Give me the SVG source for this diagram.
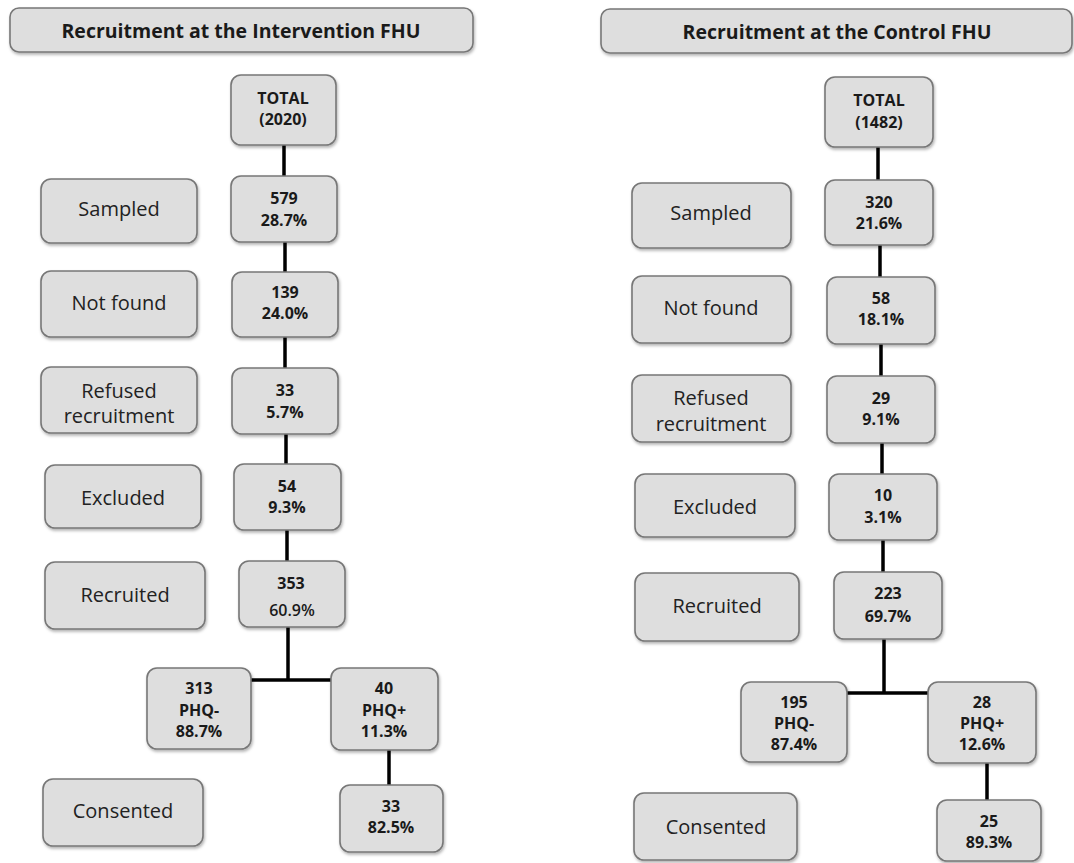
<svg xmlns="http://www.w3.org/2000/svg" width="1074" height="863" viewBox="0 0 1074 863">
<defs>
<filter id="sh" x="-10%" y="-10%" width="130%" height="140%">
<feDropShadow dx="1" dy="2" stdDeviation="1.5" flood-color="#000" flood-opacity="0.3"/>
</filter>
</defs>
<style>
.box{fill:#dedede;stroke:#777;stroke-width:1.6;filter:url(#sh)}
.title{font-family:"Open Sans","Liberation Sans",sans-serif;font-weight:bold;font-size:19.5px;fill:#1a1a1a;text-anchor:middle;dominant-baseline:central}
.lbl{font-family:"Open Sans","Liberation Sans",sans-serif;font-size:20px;fill:#222;text-anchor:middle;dominant-baseline:central}
.num{font-family:"Open Sans","Liberation Sans",sans-serif;font-weight:bold;font-size:16px;fill:#1a1a1a;text-anchor:middle;dominant-baseline:central}
.numr{font-family:"Open Sans","Liberation Sans",sans-serif;font-weight:600;font-size:16px;fill:#1a1a1a;text-anchor:middle;dominant-baseline:central}
.ln{stroke:#000;stroke-width:3.5;fill:none}
</style>
<rect width="1074" height="863" fill="#fff"/>
<g id="connectors">
<line class="ln" x1="284" y1="145" x2="284" y2="176"/>
<line class="ln" x1="285" y1="242" x2="285" y2="272"/>
<line class="ln" x1="285" y1="337" x2="285" y2="368"/>
<line class="ln" x1="286" y1="434" x2="286" y2="464"/>
<line class="ln" x1="287" y1="530" x2="287" y2="561"/>
<line class="ln" x1="288" y1="627" x2="288" y2="680"/>
<line class="ln" x1="251" y1="680" x2="332" y2="680"/>
<line class="ln" x1="389" y1="750" x2="389" y2="785"/>
<line class="ln" x1="878" y1="147" x2="878" y2="180"/>
<line class="ln" x1="880" y1="245" x2="880" y2="277"/>
<line class="ln" x1="881" y1="344" x2="881" y2="376"/>
<line class="ln" x1="882" y1="443" x2="882" y2="474"/>
<line class="ln" x1="883" y1="540" x2="883" y2="572"/>
<line class="ln" x1="884" y1="639" x2="884" y2="693"/>
<line class="ln" x1="847" y1="693" x2="928" y2="693"/>
<line class="ln" x1="987" y1="763" x2="987" y2="800"/>
</g>
<g id="titleL"><rect class="box" x="10" y="8" width="463" height="44" rx="9"/><text class="title" x="241" y="30">Recruitment at the Intervention FHU</text></g>
<g id="totalL"><rect class="box" x="231" y="75" width="105" height="70" rx="10"/><text class="num" x="283" y="98">TOTAL</text><text class="num" x="283" y="119">(2020)</text></g>
<g id="sampledL"><rect class="box" x="41" y="179" width="156" height="64" rx="10"/><text class="lbl" x="119" y="208">Sampled</text></g>
<g id="n579"><rect class="box" x="231" y="176" width="106" height="66" rx="10"/><text class="num" x="284" y="198">579</text><text class="num" x="284" y="220">28.7%</text></g>
<g id="notfoundL"><rect class="box" x="41" y="271" width="156" height="66" rx="10"/><text class="lbl" x="119" y="302">Not found</text></g>
<g id="n139"><rect class="box" x="232" y="272" width="106" height="65" rx="10"/><text class="num" x="285" y="292">139</text><text class="num" x="285" y="313">24.0%</text></g>
<g id="refusedL"><rect class="box" x="41" y="367" width="156" height="66" rx="10"/><text class="lbl" x="119" y="390">Refused</text><text class="lbl" x="119" y="415">recruitment</text></g>
<g id="n33a"><rect class="box" x="232" y="368" width="106" height="66" rx="10"/><text class="num" x="285" y="390">33</text><text class="num" x="285" y="412">5.7%</text></g>
<g id="excludedL"><rect class="box" x="45" y="465" width="156" height="63" rx="10"/><text class="lbl" x="123" y="497">Excluded</text></g>
<g id="n54"><rect class="box" x="234" y="464" width="107" height="66" rx="10"/><text class="num" x="287" y="486">54</text><text class="num" x="287" y="507">9.3%</text></g>
<g id="recruitedL"><rect class="box" x="45" y="562" width="160" height="67" rx="10"/><text class="lbl" x="125" y="594">Recruited</text></g>
<g id="n353"><rect class="box" x="239" y="561" width="106" height="66" rx="10"/><text class="num" x="291" y="583">353</text><text class="numr" x="292" y="610">60.9%</text></g>
<g id="n313"><rect class="box" x="147" y="668" width="104" height="81" rx="10"/><text class="num" x="199" y="688">313</text><text class="num" x="199" y="710">PHQ-</text><text class="num" x="199" y="731">88.7%</text></g>
<g id="n40"><rect class="box" x="331" y="668" width="107" height="82" rx="10"/><text class="num" x="384" y="688">40</text><text class="num" x="384" y="710">PHQ+</text><text class="num" x="384" y="731">11.3%</text></g>
<g id="consentedL"><rect class="box" x="43" y="779" width="160" height="67" rx="10"/><text class="lbl" x="123" y="810">Consented</text></g>
<g id="n33b"><rect class="box" x="340" y="785" width="103" height="67" rx="10"/><text class="num" x="391" y="806">33</text><text class="num" x="391" y="827">82.5%</text></g>
<g id="titleR"><rect class="box" x="601" y="9" width="471" height="44" rx="9"/><text class="title" x="837" y="31">Recruitment at the Control FHU</text></g>
<g id="totalR"><rect class="box" x="825" y="77" width="108" height="70" rx="10"/><text class="num" x="879" y="100">TOTAL</text><text class="num" x="879" y="122">(1482)</text></g>
<g id="sampledR"><rect class="box" x="632" y="183" width="159" height="65" rx="10"/><text class="lbl" x="711" y="212">Sampled</text></g>
<g id="n320"><rect class="box" x="825" y="180" width="108" height="65" rx="10"/><text class="num" x="879" y="202">320</text><text class="num" x="879" y="223">21.6%</text></g>
<g id="notfoundR"><rect class="box" x="632" y="276" width="159" height="67" rx="10"/><text class="lbl" x="711" y="307">Not found</text></g>
<g id="n58"><rect class="box" x="827" y="277" width="108" height="67" rx="10"/><text class="num" x="881" y="298">58</text><text class="num" x="881" y="319">18.1%</text></g>
<g id="refusedR"><rect class="box" x="632" y="375" width="159" height="67" rx="10"/><text class="lbl" x="711" y="397">Refused</text><text class="lbl" x="711" y="423">recruitment</text></g>
<g id="n29"><rect class="box" x="827" y="376" width="108" height="67" rx="10"/><text class="num" x="881" y="398">29</text><text class="num" x="881" y="419">9.1%</text></g>
<g id="excludedR"><rect class="box" x="635" y="474" width="160" height="63" rx="10"/><text class="lbl" x="715" y="506">Excluded</text></g>
<g id="n10"><rect class="box" x="829" y="474" width="108" height="66" rx="10"/><text class="num" x="883" y="495">10</text><text class="num" x="883" y="517">3.1%</text></g>
<g id="recruitedR"><rect class="box" x="635" y="573" width="164" height="68" rx="10"/><text class="lbl" x="717" y="605">Recruited</text></g>
<g id="n223"><rect class="box" x="834" y="572" width="108" height="67" rx="10"/><text class="num" x="888" y="593">223</text><text class="num" x="888" y="616">69.7%</text></g>
<g id="n195"><rect class="box" x="741" y="682" width="106" height="80" rx="10"/><text class="num" x="794" y="702">195</text><text class="num" x="794" y="723">PHQ-</text><text class="num" x="794" y="744">87.4%</text></g>
<g id="n28"><rect class="box" x="928" y="682" width="108" height="81" rx="10"/><text class="num" x="982" y="702">28</text><text class="num" x="982" y="723">PHQ+</text><text class="num" x="982" y="744">12.6%</text></g>
<g id="consentedR"><rect class="box" x="634" y="793" width="163" height="67" rx="10"/><text class="lbl" x="716" y="826">Consented</text></g>
<g id="n25"><rect class="box" x="937" y="800" width="104" height="61" rx="10"/><text class="num" x="989" y="821">25</text><text class="num" x="989" y="842">89.3%</text></g>
</svg>
